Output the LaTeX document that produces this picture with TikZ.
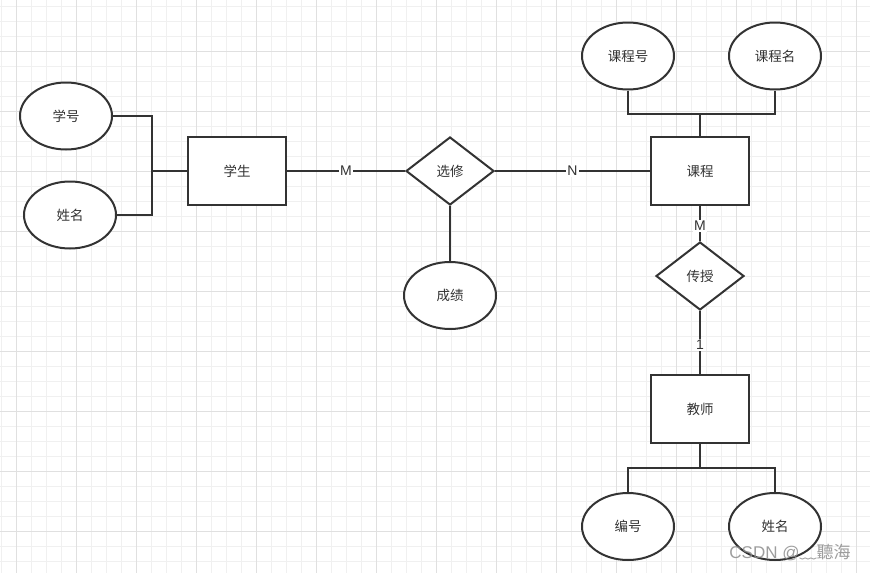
\documentclass[tikz,border=0pt]{standalone}
\usepackage{fontspec}
\setmainfont{Liberation Sans}
\newfontfamily\cjk{Noto Sans CJK SC}
\usetikzlibrary{positioning, shapes.geometric}
\definecolor{ink}{HTML}{333333}
\definecolor{gridminor}{HTML}{F0F0F0}
\definecolor{gridmajor}{HTML}{E0E0E0}
\tikzset{
  entity/.style={
    draw=ink,
    line width=2pt,
    rectangle,
    minimum width=98pt,
    minimum height=68pt,
    fill=white,
    text=ink,
    font=\cjk\fontsize{13.5}{16}\selectfont
  },
  relation/.style={
    draw=ink,
    line width=2pt,
    diamond,
    minimum width=88pt,
    minimum height=68pt,
    inner sep=0pt,
    fill=white,
    text=ink,
    font=\cjk\fontsize{13.5}{16}\selectfont
  },
  attribute/.style={
    draw=ink,
    line width=2pt,
    ellipse,
    minimum width=92pt,
    minimum height=67pt,
    fill=white,
    text=ink,
    font=\cjk\fontsize{13.5}{16}\selectfont
  },
  card/.style={
    fill=white,
    inner sep=1.5pt,
    text=ink,
    font=\fontsize{14}{16}\selectfont
  },
  link/.style={
    draw=ink,
    line width=2pt
  }
}
\begin{document}
\begin{tikzpicture}[x=1pt, y=-1pt]
        \useasboundingbox (0,0) rectangle (870,573);
        \fill[white] (0,0) rectangle (870,573);
        % grid
        \foreach \gx in {1,16,...,870} \draw[gridminor, line width=1pt] (\gx,0) -- (\gx,573);
        \foreach \gy in {6,21,...,573} \draw[gridminor, line width=1pt] (0,\gy) -- (870,\gy);
        \foreach \gx in {16,76,...,870} \draw[gridmajor, line width=1pt] (\gx,0) -- (\gx,573);
        \foreach \gy in {51,111,...,573} \draw[gridmajor, line width=1pt] (0,\gy) -- (870,\gy);

        \node[entity] (student) at (237,171) {学生};
        \node[relation, right=118pt of student] (xuanxiu) {选修};
        \node[entity, right=155pt of xuanxiu] (course) {课程};
        \node[attribute, below=55pt of xuanxiu] (score) {成绩};

        \node[attribute] (sno) at (66,116) {学号};
        \node[attribute] (sname) at (70,215) {姓名};
        \coordinate (sj) at (152,171);

        \node[attribute] (cno) at (628,56) {课程号};
        \node[attribute] (cname) at (775,56) {课程名};
        \coordinate (ct) at (700,114);

        \node[relation, below=35pt of course] (teach) {传授};
        \node[entity, below=63pt of teach] (teacher) {教师};
        \coordinate (tb) at (700,468);
        \node[attribute] (tno) at (628,526.5) {编号};
        \node[attribute] (tname) at (775,526.5) {姓名};

        \draw[link] (sno.east) -| (sj) |- (sname.east);
        \draw[link, line width=2.6pt] (sj) -- (student);
        \draw[link] (student) -- node[card] {M} (xuanxiu);
        \draw[link] (xuanxiu) -- node[card] {N} (course);
        \draw[link] (xuanxiu) -- (score);

        \draw[link] (cno.south) |- (ct) -| (cname.south);
        \draw[link] (ct) -- (course);
        \draw[link] (course) -- node[card, pos=0.57] {M} (teach);
        \draw[link] (teach) -- node[card, pos=0.54] {1} (teacher);

        \draw[link] (teacher) -- (tb);
        \draw[link] (tno.north) |- (tb) -| (tname.north);

        \node[text=black!45, opacity=0.85, font=\fontsize{17}{19}\selectfont] (mark) at (790,553) {CSDN @{\cjk ﹏聽海}};
      \end{tikzpicture}
\end{document}
